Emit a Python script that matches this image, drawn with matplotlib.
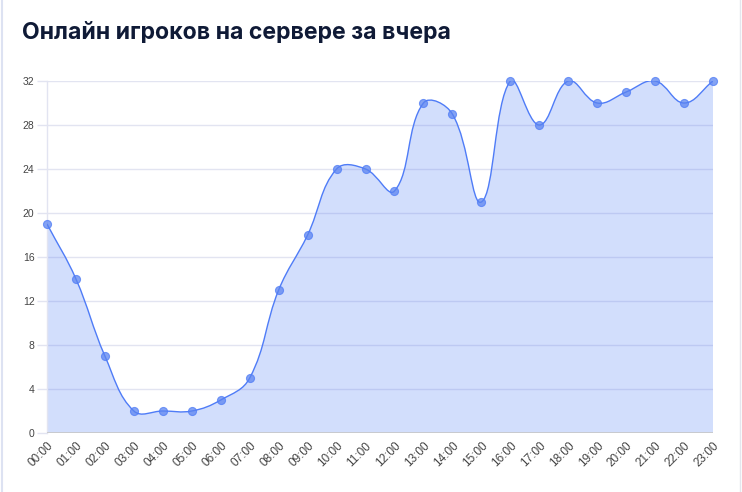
import numpy as np
import matplotlib
matplotlib.use('Agg')
import matplotlib.pyplot as plt
from matplotlib.path import Path
from matplotlib.patches import PathPatch
from matplotlib.lines import Line2D

# Data
hours = ['00:00', '01:00', '02:00', '03:00', '04:00', '05:00', '06:00', '07:00',
         '08:00', '09:00', '10:00', '11:00', '12:00', '13:00', '14:00', '15:00',
         '16:00', '17:00', '18:00', '19:00', '20:00', '21:00', '22:00', '23:00']
players = [19, 14, 7, 2, 2, 2, 3, 5, 13, 18, 24, 24, 22, 30, 29, 21,
           32, 28, 32, 30, 31, 32, 30, 32]
y_ticks = [0, 4, 8, 12, 16, 20, 24, 28, 32]

line_color = '#4f7cf7'
grid_color = '#e2e4f1'

fig = plt.figure(figsize=(7.42, 4.92), dpi=100)
ax = fig.add_axes([47 / 742, 1 - 433 / 492, (713 - 47) / 742, (433 - 81) / 492])

x = np.arange(len(hours))
ax.set_xlim(0, len(hours) - 1)
ax.set_ylim(0, 32)


def spline_path(xs, ys, tension=0.4):
    # Chart.js style bezier spline, computed in pixel space
    pts = ax.transData.transform(np.column_stack([xs, ys]))
    n = len(pts)
    cp_prev = pts.copy()
    cp_next = pts.copy()
    for i in range(n):
        prev = pts[max(i - 1, 0)]
        cur = pts[i]
        nxt = pts[min(i + 1, n - 1)]
        d01 = np.hypot(*(cur - prev))
        d12 = np.hypot(*(nxt - cur))
        tot = d01 + d12
        s01 = d01 / tot if tot else 0
        s12 = d12 / tot if tot else 0
        cp_prev[i] = cur - tension * s01 * (nxt - prev)
        cp_next[i] = cur + tension * s12 * (nxt - prev)
    verts = [pts[0]]
    codes = [Path.MOVETO]
    for i in range(n - 1):
        verts += [cp_next[i], cp_prev[i + 1], pts[i + 1]]
        codes += [Path.CURVE4] * 3
    inv = ax.transData.inverted()
    return inv.transform(np.array(verts)), codes


verts, codes = spline_path(x, players)

# fill area under the curve
fill_verts = list(verts) + [[x[-1], 0], [x[0], 0], verts[0]]
fill_codes = list(codes) + [Path.LINETO, Path.LINETO, Path.CLOSEPOLY]
ax.add_patch(PathPatch(Path(fill_verts, fill_codes), facecolor=line_color, alpha=0.25,
                       edgecolor='none', zorder=2))
ax.add_patch(PathPatch(Path(verts, codes), facecolor='none', edgecolor=line_color,
                       linewidth=1.0, zorder=3))
ax.plot(x, players, 'o', color='#5b84f0', markersize=5.8, alpha=0.75,
        markeredgewidth=0.8, markeredgecolor=line_color, zorder=4, clip_on=False)

# grid and axes styling
ax.set_yticks(y_ticks)
for t in y_ticks[1:]:
    ax.axhline(t, color=grid_color, linewidth=1, zorder=1)
ax.axhline(0, color='#c6c6c6', linewidth=1.2, zorder=3)
ax.set_xticks(x)
ax.set_xticklabels(hours, rotation=45, ha='right', rotation_mode='anchor',
                   fontsize=8.5, color='#444444', family='Liberation Sans')
ax.set_yticklabels([str(v) for v in y_ticks], fontsize=7.5, color='#444444',
                   family='Liberation Sans')
ax.tick_params(axis='y', length=7, width=1, color=grid_color, pad=2)
ax.tick_params(axis='x', length=0, pad=5)
for side in ['top', 'right', 'bottom']:
    ax.spines[side].set_visible(False)
ax.spines['left'].set_color(grid_color)
ax.spines['left'].set_linewidth(1)

fig.text(22 / 742, 1 - 33 / 492, 'Онлайн игроков на сервере за вчера', fontsize=16.6,
         fontweight='bold', color='#0f1a36', family='Inter', va='center', ha='left')

# card borders
fig.add_artist(Line2D([2 / 742, 2 / 742], [0, 1], color='#dde2f2', linewidth=1.5))
fig.add_artist(Line2D([740 / 742, 740 / 742], [0, 1], color='#e4e6ee', linewidth=1))

fig.savefig('out.png', dpi=100)
